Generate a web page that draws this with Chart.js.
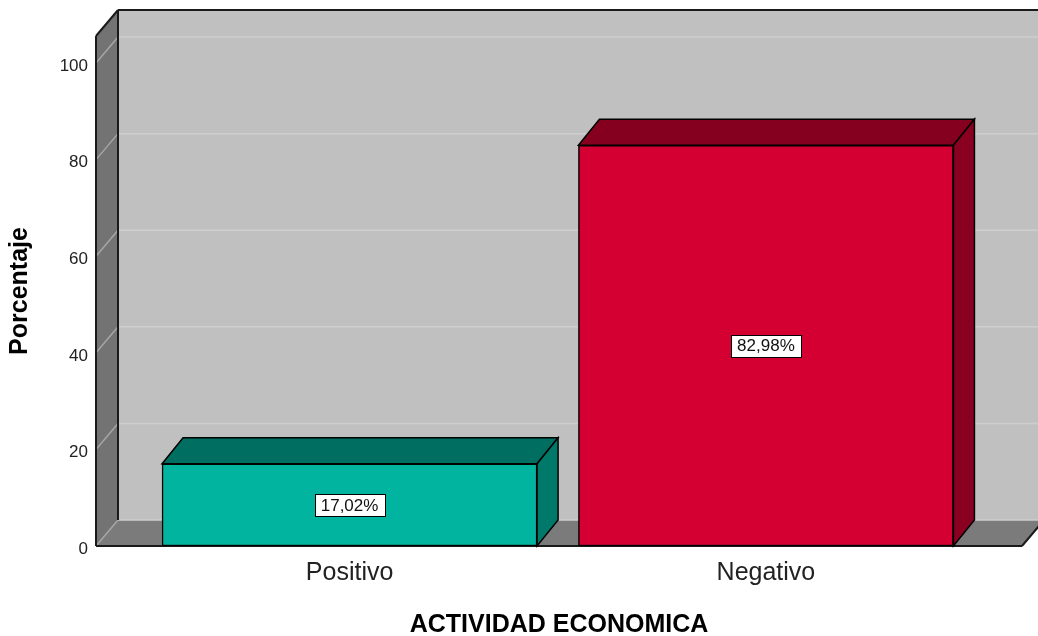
<!DOCTYPE html>
<html>
<head>
<meta charset="utf-8">
<title>Actividad económica</title>
<script src="https://cdn.jsdelivr.net/npm/chart.js@4.4.1/dist/chart.umd.min.js"></script>
<style>
  body { margin: 0; background: #fff; }
  canvas { display: block; }
</style>
</head>
<body>
<canvas id="grafico" width="1038" height="636"></canvas>
<script>
// datos
const categorias = ['Positivo', 'Negativo'];
const porcentajes = [17.02, 82.98];
const ticksY = [0, 20, 40, 60, 80, 100];

// colores de cada barra: cara frontal, tapa y lateral
const colorFrente = ['#00b4a0', '#d50032'];
const colorTapa = ['#006e60', '#85001f'];
const colorLado = ['#00786a', '#8a0020'];

const PROF_X = 22, PROF_Y = 26; // profundidad del efecto 3D
const FUENTE = '"Liberation Sans", Arial, sans-serif';

const etiqueta = v => v.toFixed(2).replace('.', ',') + '%';

function poligono(ctx, pts, relleno, trazo, ancho) {
  ctx.beginPath();
  pts.forEach(([px, py], i) => i ? ctx.lineTo(px, py) : ctx.moveTo(px, py));
  ctx.closePath();
  if (relleno) { ctx.fillStyle = relleno; ctx.fill(); }
  if (trazo) { ctx.strokeStyle = trazo; ctx.lineWidth = ancho || 1; ctx.stroke(); }
}

function linea(ctx, x1, y1, x2, y2, color, ancho) {
  ctx.beginPath();
  ctx.moveTo(x1, y1);
  ctx.lineTo(x2, y2);
  ctx.strokeStyle = color;
  ctx.lineWidth = ancho;
  ctx.stroke();
}

// paredes, suelo y rejilla de la caja 3D
const caja3d = {
  id: 'caja3d',
  beforeDatasetsDraw(chart) {
    const { ctx, chartArea: a, scales: { y } } = chart;
    const L = a.left, R = a.right, T = a.top, B = a.bottom;
    ctx.save();
    ctx.fillStyle = '#c0c0c0';
    ctx.fillRect(L + PROF_X, T - PROF_Y, R - L, B - T);
    poligono(ctx, [[L, T], [L + PROF_X, T - PROF_Y], [L + PROF_X, B - PROF_Y], [L, B]], '#737373');
    poligono(ctx, [[L, B], [L + PROF_X, B - PROF_Y], [R + PROF_X, B - PROF_Y], [R, B]], '#7b7b7b');

    ticksY.forEach(v => {
      const py = y.getPixelForValue(v);
      linea(ctx, L + PROF_X, py - PROF_Y, R + PROF_X, py - PROF_Y, '#cecece', 1.5);
      linea(ctx, L, py, L + PROF_X, py - PROF_Y, '#a6a6a6', 1.5);
    });

    // aristas
    linea(ctx, L, T, L, B, '#1a1a1a', 2);
    linea(ctx, L, T, L + PROF_X, T - PROF_Y, '#1a1a1a', 2);
    linea(ctx, L + PROF_X, T - PROF_Y, R + PROF_X, T - PROF_Y, '#1a1a1a', 2);
    linea(ctx, L + PROF_X, T - PROF_Y, L + PROF_X, B - PROF_Y, '#1a1a1a', 2);
    linea(ctx, L, B, R, B, '#1a1a1a', 2);
    linea(ctx, R, B, R + PROF_X, B - PROF_Y, '#1a1a1a', 2);
    ctx.restore();
  },
  afterDatasetsDraw(chart) {
    const { ctx } = chart;
    const meta = chart.getDatasetMeta(0);
    ctx.save();
    meta.data.forEach((barra, i) => {
      const { x, y, base, width } = barra.getProps(['x', 'y', 'base', 'width'], true);
      const izq = x - width / 2, der = x + width / 2;
      const dx = PROF_X - 1;
      poligono(ctx, [[izq, y], [izq + dx, y - PROF_Y], [der + dx, y - PROF_Y], [der, y]], colorTapa[i], '#000', 1.5);
      poligono(ctx, [[der, y], [der + dx, y - PROF_Y], [der + dx, base - PROF_Y], [der, base]], colorLado[i], '#000', 1.5);

      // etiqueta con el valor
      const texto = etiqueta(porcentajes[i]);
      ctx.font = '17px ' + FUENTE;
      const w = Math.round(ctx.measureText(texto).width + 12), h = 22;
      const cy = (y + base) / 2;
      const bx = Math.round(x - w / 2) + 0.5, by = Math.round(cy - h / 2) + 0.5;
      ctx.fillStyle = '#fff';
      ctx.fillRect(bx, by, w, h);
      ctx.strokeStyle = '#000';
      ctx.lineWidth = 1;
      ctx.strokeRect(bx, by, w, h);
      ctx.fillStyle = '#111';
      ctx.textAlign = 'center';
      ctx.textBaseline = 'middle';
      ctx.fillText(texto, x, cy + 1);
    });
    ctx.restore();
  }
};

new Chart(document.getElementById('grafico'), {
  type: 'bar',
  data: {
    datasets: [{
      data: porcentajes.map((v, i) => ({ x: i, y: v })),
      backgroundColor: colorFrente,
      borderColor: '#000',
      borderWidth: 1.5,
      borderSkipped: false,
      barThickness: 375
    }]
  },
  options: {
    responsive: false,
    animation: false,
    layout: { padding: { top: 36, right: 16, left: 0, bottom: 0 } },
    plugins: { legend: { display: false }, tooltip: { enabled: false } },
    scales: {
      x: {
        type: 'linear',
        min: -0.609,
        max: 1.615,
        offset: false,
        grid: { display: false, drawTicks: false },
        border: { display: false },
        afterBuildTicks: s => { s.ticks = categorias.map((c, i) => ({ value: i })); },
        ticks: {
          callback: v => categorias[v],
          autoSkip: false,
          maxRotation: 0,
          padding: 12,
          color: '#222',
          font: { family: FUENTE, size: 25 }
        },
        title: {
          display: true,
          text: 'ACTIVIDAD ECONOMICA',
          color: '#000',
          padding: { top: 0, bottom: -2 },
          font: { family: FUENTE, size: 25, weight: 'bold', lineHeight: 1 }
        },
        afterFit: s => { s.height = 90; }
      },
      y: {
        min: 0,
        max: 105.6,
        grid: { display: false, drawTicks: false },
        border: { display: false },
        afterBuildTicks: s => { s.ticks = ticksY.map(v => ({ value: v })); },
        ticks: {
          padding: 8,
          labelOffset: 3,
          color: '#222',
          font: { family: FUENTE, size: 17 }
        },
        title: {
          display: true,
          text: 'Porcentaje',
          color: '#000',
          padding: { top: 8, bottom: 0 },
          font: { family: FUENTE, size: 25, weight: 'bold', lineHeight: 1 }
        },
        afterFit: s => { s.width = 96; }
      }
    }
  },
  plugins: [caja3d]
});
</script>
</body>
</html>
